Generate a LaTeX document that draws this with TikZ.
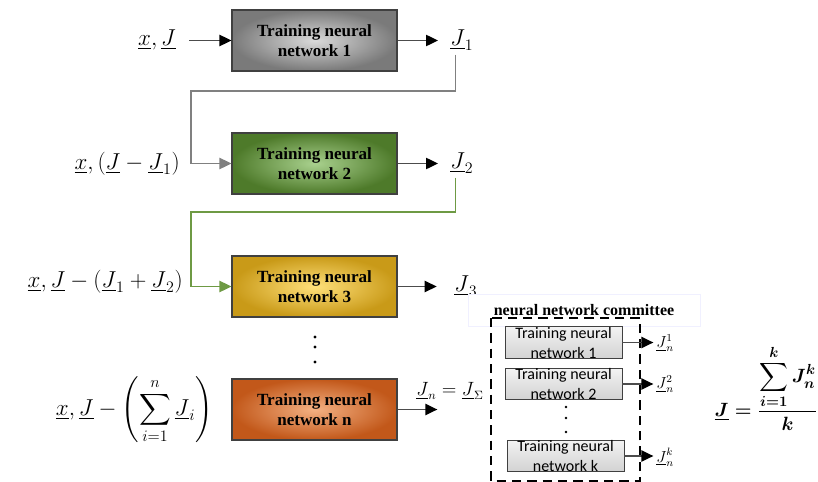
\documentclass[tikz,border=0pt]{standalone}
\usepackage{amsmath, amssymb}
\usepackage{fontspec}
\setmainfont{Liberation Serif}
\newfontfamily\calfont{Carlito}
\usetikzlibrary{arrows.meta, positioning, shapes}
\definecolor{grayout}{HTML}{7A7A7A}
\definecolor{grayin}{HTML}{DADADA}
\definecolor{greenout}{HTML}{4E7A2A}
\definecolor{greenin}{HTML}{A9D18E}
\definecolor{goldout}{HTML}{C99A18}
\definecolor{goldin}{HTML}{FFE07A}
\definecolor{orangeout}{HTML}{C2581A}
\definecolor{orangein}{HTML}{F4B183}
\definecolor{fbgreen}{HTML}{6E9A44}
\tikzset{
  trainbox/.style 2 args={draw=black!75, line width=0.8pt, minimum width=123.75pt, minimum height=45.75pt,
    align=center, inner sep=0pt, font=\bfseries\fontsize{12.8}{15.5}\selectfont,
    shading=radial, outer color=#1, inner color=#2},
  subbox/.style={draw=black!75, line width=0.6pt, minimum width=87.75pt, minimum height=23.25pt,
    align=center, inner sep=0pt, font=\calfont\fontsize{12}{15}\selectfont,
    top color=gray!10, bottom color=gray!35},
  sig/.style={inner sep=0pt, font=\fontsize{16.5}{19}\selectfont},
  subsig/.style={inner sep=0pt, font=\fontsize{12}{14}\selectfont},
  arr/.style={draw=black!70, line width=1pt, -{Triangle[length=9pt,width=8.5pt,color=black]}},
  fbline/.style={draw=#1, line width=1pt, -{Triangle[length=9pt,width=8.5pt,color=#1]}}
}

\begin{document}
\begin{tikzpicture}[x=0.75pt, y=-0.75pt]
\useasboundingbox (0,0) rectangle (818,482);

% chain of networks
\node[trainbox={grayout}{grayin}] (n1) at (314.5,40.5) {Training neural\\network 1};
\node[trainbox={greenout}{greenin}] (n2) at (314.5,163.5) {Training neural\\network 2};
\node[trainbox={goldout}{goldin}] (n3) at (314.5,286.5) {Training neural\\network 3};
\node[trainbox={orangeout}{orangein}] (nn) at (314.5,409.5) {Training neural\\network n};
\foreach \y in {337,347,362} \fill (315,\y) circle (1.3pt);

% inputs
\node[sig, anchor=east] (in1) at (176,40) {$\underline{x},\underline{J}$};
\node[sig, anchor=east] (in2) at (180,164) {$\underline{x},\left(\underline{J}-\underline{J}_1\right)$};
\node[sig, anchor=east] (in3) at (183,282) {$\underline{x},\underline{J}-\left(\underline{J}_1+\underline{J}_2\right)$};
\node[sig, anchor=east] (inn) at (213,410) {$\underline{x},\underline{J}-\left(\displaystyle\sum_{i=1}^{n}\underline{J}_i\right)$};
\draw[arr] ([xshift=10pt]in1.east |- n1.west) -- (n1.west);

% outputs
\node[sig, anchor=west] (j1) at (450,40) {$\underline{J}_1$};
\node[sig, anchor=west] (j2) at (450,163) {$\underline{J}_2$};
\node[sig, anchor=west] (j3) at (454,286) {$\underline{J}_3$};
\node[subsig, anchor=west, font=\fontsize{13.5}{16}\selectfont] (jsum) at (416,391) {$\underline{J}_n=\underline{J}_\Sigma$};
\draw[arr, shorten >=9pt] (n1.east) -- (n1.east -| j1.west);
\draw[arr, shorten >=9pt] (n2.east) -- (n2.east -| j2.west);
\draw[arr, shorten >=13pt] (n3.east) -- (n3.east -| j3.west);
\draw[arr] (nn.east) -- ([xshift=16pt]nn.east -| jsum.west);

% feedback
\coordinate (c1) at (191,91);
\coordinate (c2) at (191,212);
\draw[fbline=gray] ([shift={(4pt,-3pt)}]j1.south west) |- (c1) |- (n2.west);
\draw[fbline=fbgreen] ([shift={(4pt,-3pt)}]j2.south west) |- (c2) |- (n3.west);

% committee
\node[font=\bfseries\fontsize{12}{14}\selectfont, draw=blue!6, fill=white, minimum width=174pt,
  minimum height=24pt] (ctitle) at (584,310) {neural network committee};
\draw[line width=1.2pt, dash pattern=on 7pt off 4.5pt] (491,318) rectangle (640,481);
\node[subbox] (s1) at (563.5,342.5) {Training neural\\network 1};
\node[subbox] (s2) at (563.5,384) {Training neural\\network 2};
\node[subbox] (sk) at (565.5,456) {Training neural\\network k};
\foreach \y in {407,418,432} \fill (566,\y) circle (1.1pt);
\node[subsig, anchor=west] (o1) at (656,343) {$\underline{J}_n^1$};
\node[subsig, anchor=west] (o2) at (656,384) {$\underline{J}_n^2$};
\node[subsig, anchor=west] (ok) at (656,457) {$\underline{J}_n^k$};
\draw[arr, shorten >=2pt] (s1.east) -- (s1.east -| o1.west);
\draw[arr, shorten >=2pt] (s2.east) -- (s2.east -| o2.west);
\draw[arr, shorten >=2pt] (sk.east) -- (sk.east -| ok.west);

% average
\node[font=\fontsize{15}{18}\selectfont] (avg) at (766,388)
  {{\boldmath$\underline{J}=\dfrac{\displaystyle\sum_{i=1}^{k}J_n^k}{k}$}};
\end{tikzpicture}
\end{document}
